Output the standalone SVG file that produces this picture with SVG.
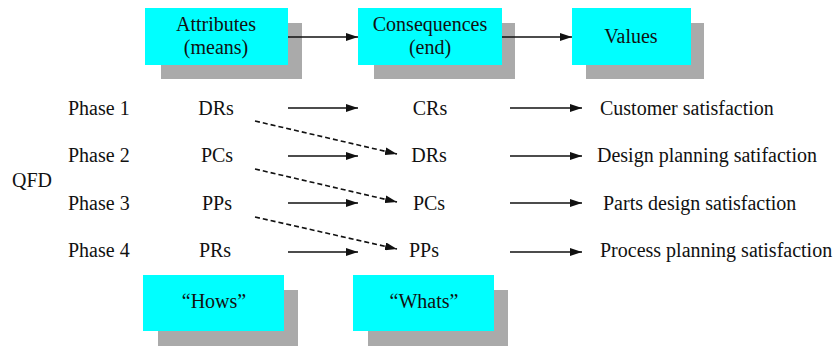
<svg xmlns="http://www.w3.org/2000/svg" width="834" height="346" viewBox="0 0 834 346">
<style>
text{font-family:"Liberation Serif","Times New Roman",serif;font-size:20px;fill:#111}
.c{text-anchor:middle}
.box{fill:#00FFFF}
.sh{fill:#AAAAAA}
.ln{stroke:#111;stroke-width:1.6;fill:none;marker-end:url(#ah)}
.ds{stroke-dasharray:5,3}
</style>
<defs>
<marker id="ah" viewBox="0 0 12 8" refX="12" refY="4" markerWidth="12" markerHeight="8" markerUnits="userSpaceOnUse" orient="auto">
<path d="M0,0 L12,4 L0,8 Z" fill="#111"/>
</marker>
</defs>
<rect width="834" height="346" fill="#fff"/>
<g id="attributes">
<rect class="sh" x="161" y="23" width="141" height="56"/>
<rect class="box" x="145" y="8" width="143" height="57"/>
<text class="c" x="216" y="31">Attributes</text>
<text class="c" x="216" y="54">(means)</text>
</g>
<g id="consequences">
<rect class="sh" x="374" y="23" width="141" height="56"/>
<rect class="box" x="358" y="8" width="144" height="57"/>
<text class="c" x="430" y="31">Consequences</text>
<text class="c" x="430" y="54">(end)</text>
</g>
<g id="values">
<rect class="sh" x="586" y="23" width="118" height="56"/>
<rect class="box" x="572" y="8" width="119" height="57"/>
<text class="c" x="631" y="43">Values</text>
</g>
<g id="hows">
<rect class="sh" x="158" y="290" width="140" height="56"/>
<rect class="box" x="143" y="275" width="141" height="56"/>
<text class="c" x="214" y="308">“Hows”</text>
</g>
<g id="whats">
<rect class="sh" x="368" y="290" width="140" height="56"/>
<rect class="box" x="353" y="275" width="141" height="56"/>
<text class="c" x="424" y="308">“Whats”</text>
</g>
<g id="labels">
<text x="12" y="187">QFD</text>
<text x="68" y="115">Phase 1</text>
<text x="68" y="162">Phase 2</text>
<text x="68" y="210">Phase 3</text>
<text x="68" y="257">Phase 4</text>
</g>
<g id="hows-col">
<text class="c" x="216" y="115">DRs</text>
<text class="c" x="217" y="162">PCs</text>
<text class="c" x="217" y="210">PPs</text>
<text class="c" x="215" y="257">PRs</text>
</g>
<g id="whats-col">
<text class="c" x="430" y="115">CRs</text>
<text class="c" x="429" y="162">DRs</text>
<text class="c" x="429" y="210">PCs</text>
<text class="c" x="424" y="257">PPs</text>
</g>
<g id="values-col">
<text x="600" y="115">Customer satisfaction</text>
<text x="597" y="162">Design planning satifaction</text>
<text x="603" y="210">Parts design satisfaction</text>
<text x="600" y="257">Process planning satisfaction</text>
</g>
<g id="connectors">
<line class="ln" x1="288" y1="37" x2="358" y2="37"/>
<line class="ln" x1="502" y1="37" x2="572" y2="37"/>
<line class="ln" x1="288" y1="108" x2="358" y2="108"/>
<line class="ln" x1="288" y1="156" x2="358" y2="156"/>
<line class="ln" x1="288" y1="203" x2="358" y2="203"/>
<line class="ln" x1="288" y1="252" x2="358" y2="252"/>
<line class="ln" x1="510" y1="108" x2="582" y2="108"/>
<line class="ln" x1="510" y1="156" x2="582" y2="156"/>
<line class="ln" x1="510" y1="203" x2="582" y2="203"/>
<line class="ln" x1="510" y1="252" x2="582" y2="252"/>
<line class="ln ds" x1="255" y1="121" x2="397" y2="154"/>
<line class="ln ds" x1="255" y1="169" x2="397" y2="202"/>
<line class="ln ds" x1="255" y1="217" x2="397" y2="249"/>
</g>
</svg>
